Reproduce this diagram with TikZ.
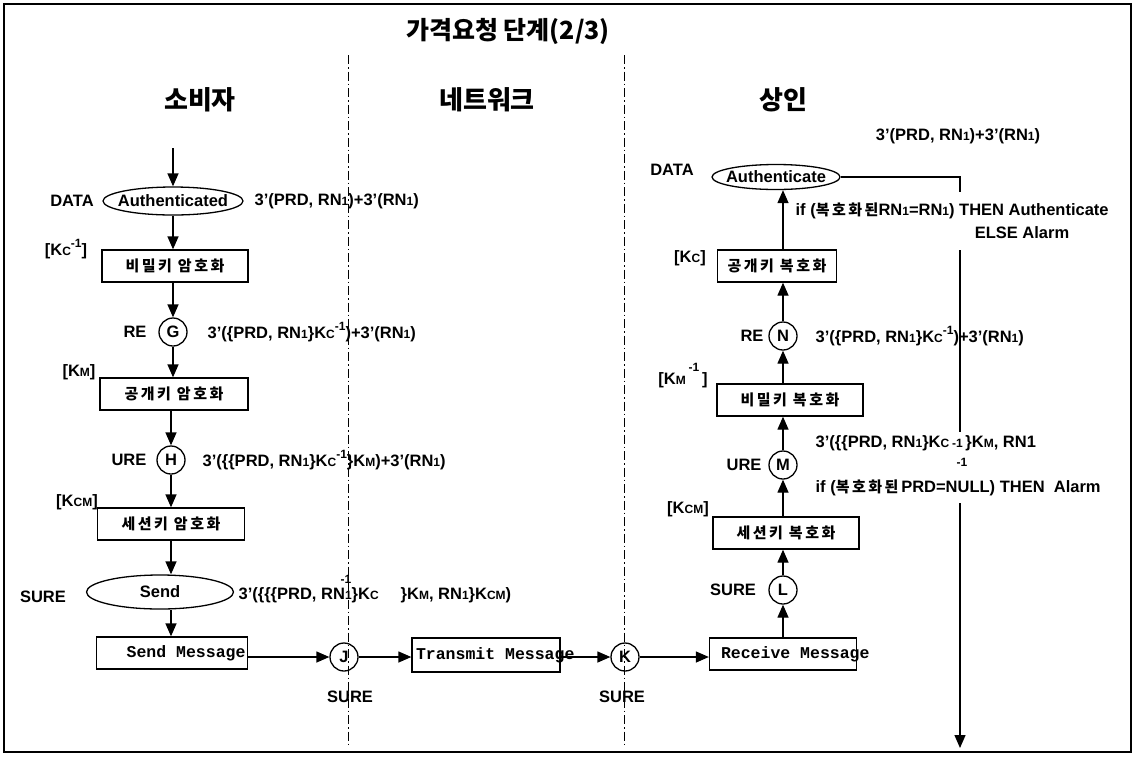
\documentclass[tikz,border=0pt]{standalone}
\usepackage{fontspec}
\setmainfont{Liberation Sans}
\newfontfamily\kr{Noto Sans CJK KR}
\newfontfamily\mono{Liberation Mono}
\usetikzlibrary{shapes.geometric,arrows.meta}
\newcommand\sm[1]{{\fontsize{12}{12}\selectfont #1}}
\newcommand\spm{\raisebox{8pt}{\fontsize{12}{12}\selectfont -1}}
\newcommand\rn{RN\sm{1}}
\newcommand\lf{\bfseries\fontsize{16.5}{18}\selectfont}
\newcommand\kf{\kr\bfseries\fontsize{15}{17}\selectfont}
\newcommand\kbit[1]{{\kr\bfseries\fontsize{15}{17}\selectfont #1}}
\newcommand\mf{\mono\bfseries\fontsize{16.5}{18}\selectfont}
\newcommand\zw[1]{\makebox[0pt]{#1}}
\begin{document}
\begin{tikzpicture}[x=1pt,y=-1pt,
  every node/.style={inner sep=0pt, font=\lf},
  arr/.style={-{Triangle[length=13pt,width=11pt]}},
  box/.style={draw, rectangle, minimum height=32pt, font=\kf},
  mbox/.style={draw, rectangle, minimum height=32pt, font=\mf},
  circ/.style={draw, circle, minimum size=28pt, font=\lf},
  ell/.style={draw, ellipse, inner sep=0pt, font=\lf},
  lane/.style={line width=1pt, dash pattern=on 9pt off 3pt on 1.5pt off 3pt},
  hdr/.style={font=\kr\bfseries\fontsize{26}{28}\selectfont},
  line width=1.3pt]
\useasboundingbox (0,0) rectangle (1135,756);
\draw[line width=1.5pt] (4,4) rectangle (1131,752);
% title and headers
\node[font=\kr\bfseries\fontsize{25}{27}\selectfont] (title) at (508,31) {가격요청 단계(2/3)};
\node[hdr] (h1) at (200,100) {소비자};
\node[hdr] (h2) at (487,100) {네트워크};
\node[hdr] (h3) at (783,100) {상인};
% lanes
\coordinate (l1a) at (348,55); \coordinate (l1b) at (348,745);
\coordinate (l2a) at (624,55); \coordinate (l2b) at (624,745);
\draw[lane] (l1a) -- (l1b);
\draw[lane] (l2a) -- (l2b);
% ---------------- left column
\coordinate (start) at (173,148);
\node[ell, minimum width=140pt, minimum height=28pt] (a1) at (173,201) {\zw{Authenticated}};
\node (ldata) at (72,201) {DATA};
\node[anchor=west] (lt1) at (254,201) {3'(PRD, \rn)+3'(\rn)};
\node (lkc) at (66,249) {[K\sm{C}\spm]};
\node[box, minimum width=146pt] (b1) at (175,266) {비\,밀\,키 \,암\,호\,화};
\node[circ] (G) at (173,332) {G};
\node (lre) at (135,332) {RE};
\node[anchor=west] (lt2) at (207,332) {3'(\{PRD, \rn\}K\sm{C}\spm)+3'(\rn)};
\node (lkm) at (79,372) {[K\sm{M}]};
\node[box, minimum width=148pt] (b2) at (174,394) {공\,개\,키 \,암\,호\,화};
\node[circ] (H) at (171,460) {H};
\node (lure) at (129,460) {URE};
\node[anchor=west] (lt3) at (202,460) {3'(\{\{PRD, \rn\}K\sm{C}\spm\}K\sm{M})+3'(\rn)};
\node (lkcm) at (77,502) {[K\sm{CM}]};
\node[box, minimum width=147pt] (b3) at (171,524) {세\,션\,키 \,암\,호\,화};
\node[ell, minimum width=147pt, minimum height=34pt] (send) at (160,592) {\zw{Send}};
\node (lsure) at (43,597) {SURE};
\node[anchor=west] (lt4) at (238,595) {3'(\{\{\{PRD, RN\sm{1}\}K\sm{C}\hspace{22pt}\}K\sm{M}, \rn\}K\sm{CM})};
\node (lt4sup) at (346,579) {\sm{-1}};
\node[mbox, minimum width=151pt] (b4) at (172,653) {\makebox[147pt][r]{Send Message}};
\draw[arr] (start) -- (start |- a1.north);
\draw[arr] (a1.south) -- (a1.south |- b1.north);
\draw[arr] (G.north |- b1.south) -- (G.north);
\draw[arr] (G.south) -- (G.south |- b2.north);
\draw[arr] (H.north |- b2.south) -- (H.north);
\draw[arr] (H.south) -- (H.south |- b3.north);
\draw[arr] (H.south |- b3.south) -- (H.south |- send.north);
\draw[arr] (H.south |- send.south) -- (H.south |- b4.north);
% ---------------- bottom row
\node[circ] (J) at (344,657) {J};
\node (jsure) at (350,697) {SURE};
\node[mbox, minimum width=148pt, minimum height=34pt] (b5) at (486,655) {\makebox[140pt][l]{Transmit Message}};
\node[circ] (K) at (625,657) {K};
\node (ksure) at (622,697) {SURE};
\node[mbox, minimum width=147pt] (b6) at (783,654) {\makebox[124pt][l]{Receive Message}};
\draw[arr] (b4.east |- J) -- (J.west);
\draw[arr] (J.east) -- (J.east -| b5.west);
\draw[arr] (b5.east |- K) -- (K.west);
\draw[arr] (K.east) -- (K.east -| b6.west);
% ---------------- right column
\node[circ] (L) at (783,590) {L};
\node (rsure) at (733,590) {SURE};
\node[box, minimum width=146pt] (b7) at (786,533) {세\,션\,키 \,복\,호\,화};
\node (rkcm) at (688,509) {[K\sm{CM}]};
\node[circ] (M) at (783,465) {M};
\node (rure) at (744,465) {URE};
\node[anchor=west] (rt1) at (815,443) {3'(\{\{PRD, \rn\}K\sm{C}\,\sm{-1}\,\}K\sm{M}, RN1};
\node (rm1) at (962,462) {\sm{-1}};
\node[anchor=west] (rt2) at (815,488) {if (\kbit{복\,호\,화\,된}\,PRD=NULL) THEN\ \ Alarm};
\node[box, minimum width=146pt] (b8) at (790,400) {비\,밀\,키 \,복\,호\,화};
\node (rkm) at (683,376) {[K\sm{M}\,\raisebox{13pt}{\sm{-1}}\,]};
\node[circ] (N) at (783,336) {N};
\node (rre) at (752,336) {RE};
\node[anchor=west] (rt3) at (815,336) {3'(\{PRD, \rn\}K\sm{C}\spm)+3'(\rn)};
\node[box, minimum width=119pt] (b9) at (777,266) {공\,개\,키 \,복\,호\,화};
\node (rkc) at (690,258) {[K\sm{C}]};
\node[ell, minimum width=128pt, minimum height=25pt] (auth) at (776,177) {\zw{Authenticate}};
\node (rdata) at (672,170) {DATA};
\node (rt4) at (958,136) {3'(PRD, \rn)+3'(\rn)};
\node[anchor=west] (rt5) at (795,211) {if (\kbit{복\,호\,화\,된}RN\sm{1}=\rn) THEN Authenticate};
\node (rt6) at (1022,233) {ELSE Alarm};
\draw[arr] (L.south |- b6.north) -- (L.south);
\draw[arr] (L.north) -- (L.north |- b7.south);
\draw[arr] (M.south |- b7.north) -- (M.south);
\draw[arr] (M.north) -- (M.north |- b8.south);
\draw[arr] (N.south |- b8.north) -- (N.south);
\draw[arr] (N.north) -- (N.north |- b9.south);
\draw[arr] (N.north |- b9.north) -- (N.north |- auth.south);
% output line
\coordinate (o1) at (960,177);
\coordinate (o2) at (960,192);
\coordinate (o3) at (960,250);
\coordinate (o4) at (960,432);
\coordinate (o5) at (960,503);
\coordinate (o6) at (960,748);
\draw (auth.east) -- (o1) -- (o2);
\draw (o3) -- (o4);
\draw[arr] (o5) -- (o6);
\end{tikzpicture}
\end{document}
